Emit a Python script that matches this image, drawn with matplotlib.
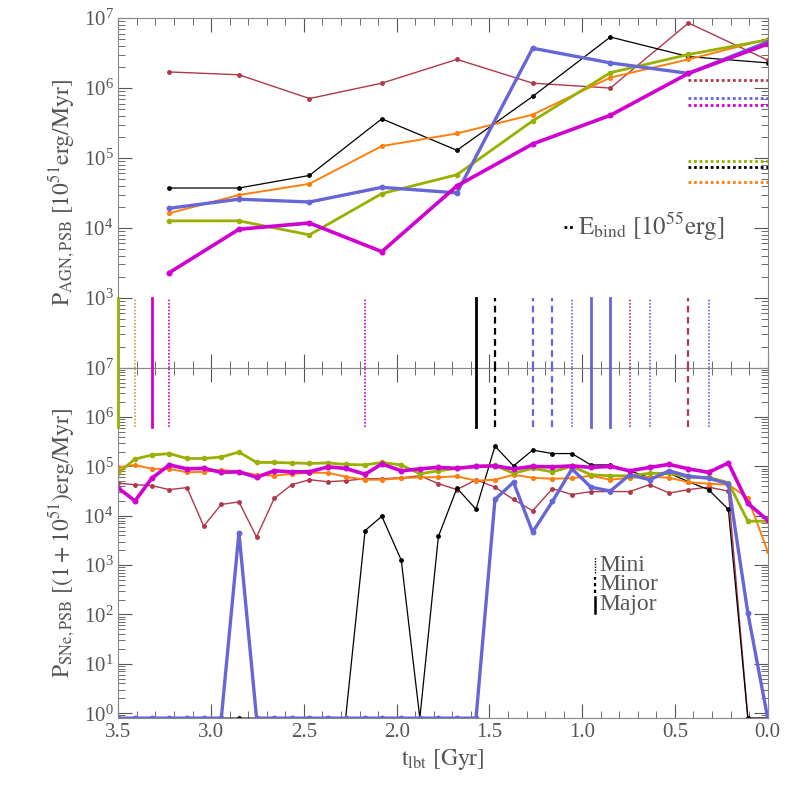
import numpy as np
import matplotlib
matplotlib.use("Agg")
import matplotlib.pyplot as plt
from matplotlib.ticker import LogLocator, NullFormatter, MultipleLocator

plt.rcParams['font.family'] = 'Liberation Serif'
plt.rcParams['mathtext.fontset'] = 'stix'

# top panel times and values (log10)
t_top = [3.225, 2.85, 2.47, 2.08, 1.675, 1.267, 0.848, 0.427, 0.0]
agn = {
    'red':     [6.23, 6.19, 5.85, 6.07, 6.41, 6.07, 6.00, 6.93, 6.40],
    'black':   [4.57, 4.57, 4.75, 5.56, 5.11, 5.88, 6.73, 6.45, 6.36],
    'orange':  [4.21, 4.47, 4.63, 5.17, 5.35, 5.62, 6.15, 6.41, 6.70],
    'blue':    [4.28, 4.41, 4.37, 4.58, 4.50, 6.57, 6.36, 6.21, 6.66],
    'green':   [4.10, 4.10, 3.90, 4.49, 4.76, 5.53, 6.22, 6.48, 6.69],
    'magenta': [3.36, 3.98, 4.07, 3.66, 4.60, 5.20, 5.61, 6.21, 6.63],
}
ebind = {'red': 6.11, 'blue': 5.86, 'magenta': 5.76, 'green': 4.96, 'black': 4.87, 'orange': 4.65}

t_bot = [3.5, 3.41, 3.32, 3.225, 3.13, 3.04, 2.945, 2.85, 2.755, 2.66, 2.565, 2.47,
         2.37, 2.275, 2.17, 2.08, 1.975, 1.875, 1.775, 1.675, 1.572, 1.47, 1.37, 1.267,
         1.16, 1.055, 0.953, 0.848, 0.744, 0.636, 0.531, 0.427, 0.319, 0.212, 0.107, 0.0]
Z = -0.1  # floor value (log10 0.8)
sne = {
    'red': [4.66, 4.63, 4.61, 4.53, 4.57, 3.79, 4.23, 4.28, 3.57, 4.35, 4.63, 4.73,
            4.69, 4.71, 4.75, 4.75, 4.77, 4.81, 4.65, 4.53, 4.73, 4.58, 4.33, 4.10,
            4.55, 4.43, 4.49, 4.49, 4.49, 4.63, 4.46, 4.53, 4.58, 4.50, Z, Z],
    'black': [Z, Z, Z, Z, Z, Z, Z, Z, Z, Z, Z, Z, Z, Z, 3.70, 3.99, 3.10, Z, 3.58, 4.56,
              4.13, 5.41, 5.01, 5.33, 5.26, 5.26, 5.03, 5.03, 4.91, 4.77, 4.86, 4.69,
              4.53, 4.13, Z, Z],
    'orange': [4.98, 5.03, 4.95, 4.95, 4.88, 4.89, 4.93, 4.89, 4.83, 4.81, 4.85, 4.87,
               4.87, 4.79, 4.73, 4.73, 4.76, 4.78, 4.78, 4.80, 4.71, 4.73, 4.83, 4.77,
               4.75, 4.76, 4.81, 4.73, 4.77, 4.79, 4.77, 4.68, 4.65, 4.63, 4.36, 3.28],
    'blue': [Z, Z, Z, Z, Z, Z, Z, 3.66, Z, Z, Z, Z, Z, Z, Z, Z, Z, Z, Z, Z, Z,
             4.33, 4.68, 3.67, 4.29, 4.95, 4.58, 4.50, 4.83, 4.73, 4.91, 4.80, 4.76,
             4.65, 2.03, Z],
    'green': [4.87, 5.15, 5.23, 5.26, 5.16, 5.16, 5.19, 5.29, 5.08, 5.08, 5.07, 5.06,
              5.07, 5.04, 5.03, 5.08, 5.03, 4.85, 4.91, 4.96, 5.00, 5.02, 4.86, 4.96,
              4.89, 5.00, 4.83, 4.81, 4.81, 4.86, 4.86, 4.78, 4.78, 4.67, 3.89, 3.89],
    'magenta': [4.56, 4.30, 4.76, 5.03, 4.95, 4.96, 4.88, 4.89, 4.78, 4.91, 4.89, 4.89,
                4.99, 4.96, 4.84, 5.05, 4.91, 4.95, 4.98, 4.96, 5.00, 5.01, 4.95, 5.00,
                4.99, 5.01, 4.98, 5.00, 4.91, 4.98, 5.04, 4.95, 4.88, 5.07, 4.25, 3.91],
}
mergers = [(3.5, 'green', '-'), (3.41, 'peru', ':'), (3.32, 'magenta', '-'),
           (3.225, 'magenta', ':'), (2.17, 'magenta', ':'), (1.572, 'black', '-'),
           (1.47, 'black', '--'), (1.267, 'blue', '--'), (1.16, 'blue', '--'),
           (1.055, 'blue', ':'), (0.953, 'blue', '-'), (0.848, 'blue', '-'),
           (0.744, 'red', ':'), (0.636, 'blue', ':'), (0.427, 'red', '--'),
           (0.319, 'blue', ':')]
legend_types = ['Mini', 'Minor', 'Major']

cols = {'red': '#B0384A', 'black': '#000000', 'orange': '#FF7F0E', 'blue': '#6666D6',
        'green': '#99B000', 'magenta': '#D000D0', 'peru': '#C8A040'}
lw = {'red': 1.0, 'black': 0.9, 'orange': 1.4, 'blue': 2.4, 'green': 2.0, 'magenta': 2.6}
order = ['red', 'black', 'orange', 'green', 'blue', 'magenta']

fig = plt.figure(figsize=(7.89, 7.89), dpi=100)
ax1 = fig.add_axes([0.150, 0.534, 0.823, 0.443])
ax2 = fig.add_axes([0.150, 0.090, 0.823, 0.444])

for c in order:
    ax1.plot(t_top, 10 ** np.array(agn[c]), color=cols[c], lw=lw[c], marker='o', ms=2.0 + lw[c] * 0.5)
    ax1.plot([0.427, 0.0], [10 ** ebind[c]] * 2, color=cols[c], lw=2, ls=(0, (1, 1)))
    ax2.plot(t_bot, 10 ** np.array(sne[c]), color=cols[c], lw=lw[c], marker='o', ms=2.0 + lw[c] * 0.5)

for t, c, ls in mergers:
    w = 2.0 if ls == '-' else 1.6 if ls == '--' else 1.2
    lst = (0, (3, 2)) if ls == '--' else (0, (1, 1)) if ls == ':' else '-'
    ax1.plot([t, t], [1e2, 1e3], color=cols[c], lw=w, ls=lst, clip_on=False, zorder=5)
    ax2.plot([t, t], [10 ** 5.8, 1e7], color=cols[c], lw=w, ls=lst, clip_on=False, zorder=5)

for ax in (ax1, ax2):
    ax.set_yscale('log')
    ax.set_xlim(3.5, 0.0)
    ax.xaxis.set_major_locator(MultipleLocator(0.5))
    ax.xaxis.set_minor_locator(MultipleLocator(0.1))
    ax.yaxis.set_minor_locator(LogLocator(subs=np.arange(2, 10), numticks=20))
    ax.yaxis.set_minor_formatter(NullFormatter())
    ax.tick_params(which='both', direction='in', top=True, right=True, colors='#555555',
                   labelcolor='#555555', labelsize=15)
    ax.tick_params(which='major', length=10)
    ax.tick_params(which='minor', length=5)
    for s in ax.spines.values():
        s.set_color('#888888')
        s.set_zorder(2)

ax1.set_ylim(1e2, 1e7)
ax1.set_yticks([1e3, 1e4, 1e5, 1e6, 1e7])
ax1.tick_params(labelbottom=False)
ax2.set_ylim(0.8, 1e7)
ax2.set_yticks([1e0, 1e1, 1e2, 1e3, 1e4, 1e5, 1e6, 1e7])

ax1.set_ylabel(r'$\mathrm{P_{AGN,PSB}\ [10^{51}erg/Myr]}$', fontsize=17, color='#555555')
ax2.set_ylabel(r'$\mathrm{P_{SNe,PSB}\ [(1+10^{51})erg/Myr]}$', fontsize=17, color='#555555')
ax2.set_xlabel(r'$\mathrm{t_{lbt}\ [Gyr]}$', fontsize=17, color='#555555')

# E_bind legend
ax1.plot([1.10, 1.04], [10 ** 4.01] * 2, color='black', lw=2, ls=(0, (1, 1)))
ax1.text(1.02, 10 ** 4.01, r'$\mathrm{E_{bind}\ [10^{55}erg]}$', fontsize=18, color='#555555', va='center')

# merger type legend
for y, ls, w, name in [(10 ** 3.0, (0, (1, 1)), 1.0, legend_types[0]),
                       (10 ** 2.6, (0, (1.5, 1.5)), 1.6, legend_types[1]),
                       (10 ** 2.2, '-', 1.8, legend_types[2])]:
    ax2.plot([0.93, 0.93], [y / 1.45, y * 1.45], color='black', lw=w, ls=ls)
    ax2.text(0.91, y, name, fontsize=17, color='#555555', va='center')

fig.savefig('out.png', dpi=100)
